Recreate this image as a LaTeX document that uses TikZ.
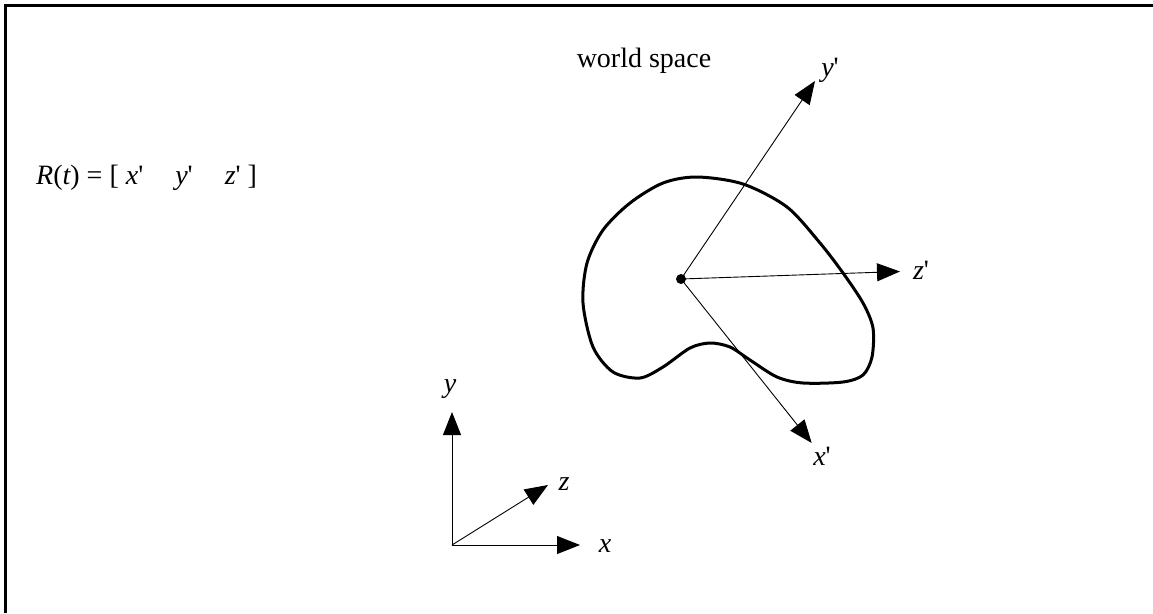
\documentclass[tikz,border=0pt]{standalone}
\usepackage{fontspec}
\newfontfamily\tms{Liberation Serif}
\usetikzlibrary{arrows.meta}
\begin{document}
\begin{tikzpicture}[x=1pt,y=-1pt,
  txt/.style={font=\tms\fontsize{28}{32}\selectfont, inner sep=0pt, anchor=base},
  axis/.style={line width=0.9pt, -{Triangle[length=23pt,width=18pt]}},
  blob/.style={line width=3pt}]
\useasboundingbox (0,0) rectangle (1153,613);
% frame
\draw[line width=2.7pt] (5.7,613) -- (5.7,5.7) -- (1153,5.7);
% texts
\node[txt] (ws) at (644,67) {world space};
\node[txt, anchor=base west] (rt) at (36,184) {\itshape R\upshape(\itshape t\upshape) = [\hspace{7pt}\itshape x\upshape'\hspace{32pt}\itshape y\upshape'\hspace{32pt}\itshape z\upshape'\hspace{7pt}]};
% blob
\draw[blob] plot[smooth cycle] coordinates {(697,177) (743,184) (787,207) (820,243) (843,273) (863,303) (873,328) (872,357) (863,375) (843,382) (803,383) (777,377) (750,360) (730,347) (710,343) (690,348) (663,367) (640,378) (613,372) (593,347) (583,303) (587,263) (603,230) (630,203) (663,183)};
% body frame
\node[circle, fill=black, inner sep=0pt, minimum size=10pt] (c) at (681,279) {};
\coordinate (yp) at (815,81);
\coordinate (zp) at (900,271.5);
\coordinate (xp) at (811.7,443);
\draw[axis] (c.center) -- (yp);
\draw[axis] (c.center) -- (zp);
\draw[axis] (c.center) -- (xp);
\node[txt] (lyp) at (830,76) {\itshape y\upshape'};
\node[txt] (lzp) at (921,279) {\itshape z\upshape'};
\node[txt] (lxp) at (822,465) {\itshape x\upshape'};
% world axes
\coordinate (o) at (452,545);
\coordinate (ty) at (452,412);
\coordinate (tx) at (580,545);
\coordinate (tz) at (548,485);
\draw[axis] (o) -- (ty);
\draw[axis] (o) -- (tx);
\draw[axis] (o) -- (tz);
\node[txt] (ly) at (450,392) {\itshape y};
\node[txt] (lz) at (564,490) {\itshape z};
\node[txt] (lx) at (605,552) {\itshape x};
\end{tikzpicture}
\end{document}
